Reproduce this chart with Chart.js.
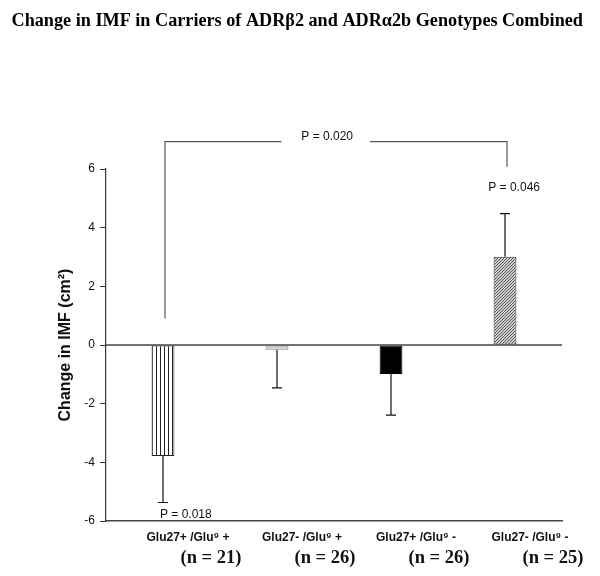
<!DOCTYPE html>
<html>
<head>
<meta charset="utf-8">
<script src="https://cdn.jsdelivr.net/npm/chart.js@4.4.0/dist/chart.umd.min.js"></script>
<style>
html,body{margin:0;padding:0;background:#fff;}
#wrap{width:600px;height:576px;position:relative;}
</style>
</head>
<body>
<div id="wrap"><canvas id="c" width="600" height="576"></canvas></div>
<script>
// ---- data ----
const chartTitle = 'Change in IMF in Carriers of ADRβ2 and ADRα2b Genotypes Combined';
const categories = ['Glu27+ /Glu⁹ +', 'Glu27- /Glu⁹ +', 'Glu27+ /Glu⁹ -', 'Glu27- /Glu⁹ -'];
const groupSizes = ['(n = 21)', '(n = 26)', '(n = 26)', '(n = 25)'];
const meanChange = [-3.78, -0.16, -0.99, 3.01];
const stdError = [1.59, 1.30, 1.40, 1.47];
const yTicks = [-6, -4, -2, 0, 2, 4, 6];
const pLabels = [
  {text: 'P = 0.018', x: 0.2, y: -5.77},
  {text: 'P = 0.046', x: 3.08, y: 5.36}
];
const bracket = {from: 0, to: 3, top: 6.93, leftEnd: 0.9, rightEnd: 6.08, text: 'P = 0.020', textX: 1.44};

// ---- patterns ----
function makePattern(draw, w, h) {
  const c = document.createElement('canvas');
  c.width = w; c.height = h;
  const g = c.getContext('2d');
  draw(g, w, h);
  return document.getElementById('c').getContext('2d').createPattern(c, 'repeat');
}
const vertPattern = makePattern((g, w, h) => {
  g.fillStyle = '#fff'; g.fillRect(0, 0, w, h);
  g.strokeStyle = '#222'; g.lineWidth = 1;
  g.beginPath(); g.moveTo(0.5, 0); g.lineTo(0.5, h); g.stroke();
}, 4, 4);
const diagPattern = makePattern((g, w, h) => {
  g.fillStyle = '#d0d0d0'; g.fillRect(0, 0, w, h);
  g.strokeStyle = '#555'; g.lineWidth = 1;
  g.beginPath();
  g.moveTo(0, h); g.lineTo(w, 0);
  g.moveTo(-w, h); g.lineTo(0, 0);
  g.moveTo(w, 2 * h); g.lineTo(2 * w, h);
  g.stroke();
}, 3, 3);

const overlay = {
  id: 'overlay',
  afterDatasetsDraw(chart) {
    const {ctx, chartArea, scales: {x, y}} = chart;
    ctx.save();
    // title
    ctx.fillStyle = '#000';
    ctx.font = 'bold 18.2px "Liberation Serif", "Times New Roman", serif';
    ctx.textAlign = 'left'; ctx.textBaseline = 'alphabetic';
    ctx.fillText(chartTitle, 11.5, 26);
    ctx.textAlign = 'center'; ctx.textBaseline = 'middle';
    // zero line
    const y0 = y.getPixelForValue(0);
    ctx.strokeStyle = '#444'; ctx.lineWidth = 1.5;
    ctx.beginPath(); ctx.moveTo(chartArea.left, y0); ctx.lineTo(chartArea.right, y0); ctx.stroke();
    // error bars (away from zero)
    ctx.strokeStyle = '#111'; ctx.lineWidth = 1.2;
    meanChange.forEach((m, i) => {
      const cx = x.getPixelForValue(i);
      const end = m < 0 ? m - stdError[i] : m + stdError[i];
      const py = y.getPixelForValue(m), pe = y.getPixelForValue(end);
      ctx.beginPath();
      ctx.moveTo(cx, py); ctx.lineTo(cx, pe);
      ctx.moveTo(cx - 5, pe); ctx.lineTo(cx + 5, pe);
      ctx.stroke();
    });
    // P labels
    ctx.fillStyle = '#111';
    ctx.font = '12px "Liberation Sans", Arial, sans-serif';
    pLabels.forEach(p => {
      ctx.fillText(p.text, x.getPixelForValue(p.x), y.getPixelForValue(p.y));
    });
    // bracket
    const bx1 = x.getPixelForValue(bracket.from) + 2;
    const bx2 = x.getPixelForValue(bracket.to) + 2;
    const by = y.getPixelForValue(bracket.top);
    const tx = x.getPixelForValue(bracket.textX);
    const tw = ctx.measureText(bracket.text).width;
    ctx.strokeStyle = '#555'; ctx.lineWidth = 1.2;
    ctx.beginPath();
    ctx.moveTo(bx1, y.getPixelForValue(bracket.leftEnd)); ctx.lineTo(bx1, by); ctx.lineTo(tx - tw / 2 - 20, by);
    ctx.moveTo(tx + tw / 2 + 17, by); ctx.lineTo(bx2, by); ctx.lineTo(bx2, y.getPixelForValue(bracket.rightEnd));
    ctx.stroke();
    ctx.fillText(bracket.text, tx, by - 5);
    // x category labels
    categories.forEach((c, i) => {
      const cx = x.getPixelForValue(i);
      ctx.font = 'bold 12px "Liberation Sans", Arial, sans-serif';
      ctx.fillText(c, cx + 25, chartArea.bottom + 17);
      ctx.font = 'bold 18.5px "Liberation Serif", "Times New Roman", serif';
      ctx.fillText(groupSizes[i], cx + 48, chartArea.bottom + 37);
    });
    ctx.restore();
  }
};

new Chart(document.getElementById('c'), {
  type: 'bar',
  data: {
    labels: categories,
    datasets: [{
      data: meanChange,
      backgroundColor: [vertPattern, '#cfcfcf', '#000', diagPattern],
      borderColor: ['#222', '#888', '#000', '#333'],
      borderWidth: 1,
      borderSkipped: false,
      categoryPercentage: 1,
      barPercentage: 0.2
    }]
  },
  options: {
    responsive: false,
    animation: false,
    devicePixelRatio: 1,
    layout: {padding: {left: 0, right: 38, top: 169, bottom: 0}},
    plugins: {
      legend: {display: false},
      tooltip: {enabled: false},
      title: {display: false}
    },
    scales: {
      x: {
        type: 'category',
        grid: {display: false},
        border: {display: true, color: '#444', width: 1.5},
        ticks: {display: false},
        afterFit(s) { s.height = 55; }
      },
      y: {
        min: -6, max: 6,
        afterBuildTicks(s) { s.ticks = yTicks.map(v => ({value: v})); },
        ticks: {
          color: '#111', padding: 5,
          font: {family: '"Liberation Sans", Arial, sans-serif', size: 12}
        },
        grid: {drawOnChartArea: false, drawTicks: true, tickLength: 6, color: '#333'},
        border: {display: true, color: '#333', width: 1.2},
        title: {
          display: true,
          text: 'Change in IMF (cm²)',
          color: '#111',
          font: {family: '"Liberation Sans", Arial, sans-serif', size: 16, weight: 'bold'},
          padding: {top: 56, bottom: 0}
        },
        afterFit(s) { s.width = 106; }
      }
    }
  },
  plugins: [overlay]
});
</script>
</body>
</html>
